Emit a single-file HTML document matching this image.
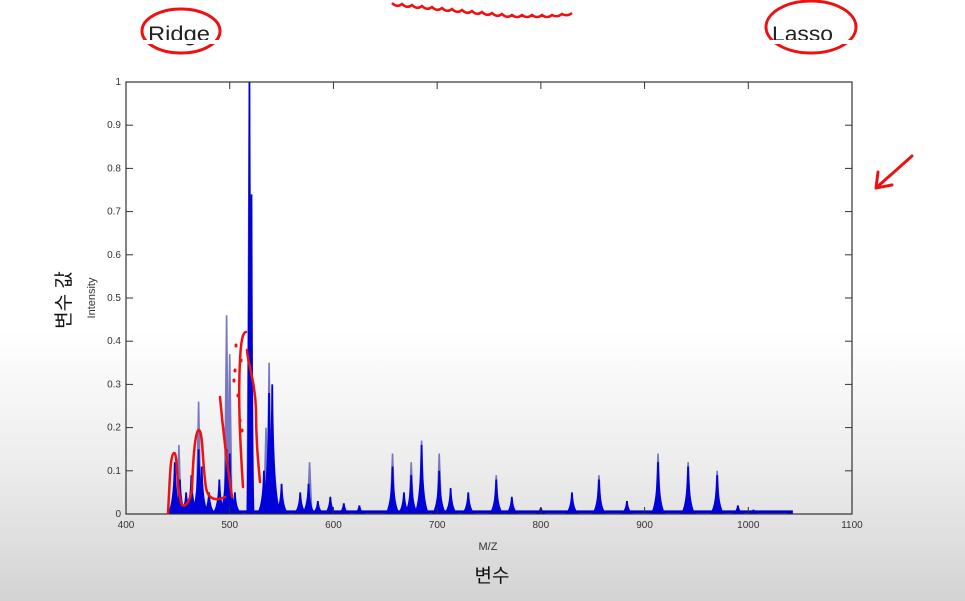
<!DOCTYPE html>
<html><head><meta charset="utf-8"><style>
html,body{margin:0;padding:0;}
body{width:965px;height:601px;overflow:hidden;background:linear-gradient(to bottom,#fff 0px,#fff 330px,#ececec 470px,#d3d3d3 601px);font-family:"Liberation Sans","Noto Sans CJK KR",sans-serif;}
svg{position:absolute;left:0;top:0;}
</style></head><body>
<svg id="chart" width="965" height="601" xmlns="http://www.w3.org/2000/svg">
<g>
<rect x="0" y="0" width="965" height="42" fill="#fff"/>
<text x="148" y="41" font-size="21" fill="#222" textLength="62" lengthAdjust="spacingAndGlyphs">Ridge</text>
<ellipse cx="181" cy="31" rx="39" ry="22" fill="none" stroke="#e11" stroke-width="3"/>
<text x="772" y="41" font-size="21" fill="#222" textLength="61" lengthAdjust="spacingAndGlyphs">Lasso</text>
<ellipse cx="811" cy="27" rx="45" ry="26" fill="none" stroke="#e11" stroke-width="3"/>
<path d="M392 3 q5 5 10 1 q5 5 10 1 q5 5 10 1 q5 5 10 1 q5 5 10 1 q5 5 10 1 q5 5 10 1 q5 5 10 1 q5 5 10 1 q5 5 10 1 q5 5 10 1 q5 5 10 1 q5 4 10 0 q5 4 10 0 q5 4 10 0 q5 4 10 0 q5 3 10 -1 q5 3 10 -1" fill="none" stroke="#e11" stroke-width="2.5"/>
<rect x="0" y="40" width="965" height="4" fill="#fff"/>
</g>
<path d="M912 156 L876 188 M876 188 L878 172 M876 188 L892 185" fill="none" stroke="#e11" stroke-width="3" stroke-linecap="round"/>
<g id="plot"></g>
<rect x="126" y="82" width="726" height="432" fill="none" stroke="#333" stroke-width="1.2"/>
<g id="ticks"></g>
<text x="488" y="550" font-size="11" fill="#333" text-anchor="middle">M/Z</text>
<text x="492" y="582" font-size="19" fill="#111" text-anchor="middle">변수</text>
<text transform="translate(95,298) rotate(-90)" font-size="11" fill="#333" text-anchor="middle">Intensity</text>
<text transform="translate(70,300) rotate(-90)" font-size="19" fill="#111" text-anchor="middle">변수 값</text>
<g fill="none" stroke="#e11" stroke-width="2.5" stroke-linecap="round">
<path d="M168 513 C170 480 170 455 174 453 C178 452 176 490 182 505 C185 507 189 504 192 490 C193 460 195 430 199 430 C203 432 202 460 206 488 C208 498 214 502 225 497"/>
<path d="M220 397 C223 430 228 470 232 497"/>
<path d="M243 487 C240 440 238 400 240 360 C241 340 243 332 246 332 M247 350 C248 365 255 380 256 410 C256 440 258 460 260 482"/>
<path d="M236 345 L236 346 M235 370 L235 371 M234 380 L234 381 M238 395 L238 396 M240 420 L240 421 M242 430 L242 431 M241 360 L241 361" stroke-width="3"/>
</g>
</svg>
<script>
const mzPeaks   = [447,452,458,463,470,473,480,490,497,500,505,519,521,533,538,541,550,568,576,585,597,610,625,657,668,675,685,702,713,730,757,772,800,830,856,883,913,942,970,990,1005,1040];
const darkHeights=[0.12,0.08,0.05,0.09,0.15,0.11,0.05,0.08,0.15,0.14,0.05,1.0,0.74,0.1,0.28,0.3,0.07,0.05,0.07,0.03,0.04,0.025,0.02,0.11,0.05,0.09,0.16,0.1,0.06,0.05,0.08,0.04,0.015,0.05,0.08,0.03,0.12,0.11,0.09,0.02,0.01,0.005];
const lightMz   = [451,470,497,500,519,535,538,577,657,675,685,702,757,856,913,942,970];
const lightHeights=[0.16,0.26,0.46,0.37,1.0,0.2,0.35,0.12,0.14,0.12,0.17,0.14,0.09,0.09,0.14,0.12,0.1];
const xTicks=[400,500,600,700,800,900,1000,1100];
const yTicks=[0,0.1,0.2,0.3,0.4,0.5,0.6,0.7,0.8,0.9,1];
const yTickLabels=["0","0.1","0.2","0.3","0.4","0.5","0.6","0.7","0.8","0.9","1"];
const X=v=>126+(v-400)*726/700, Y=v=>514-v*432;
const NS="http://www.w3.org/2000/svg";
const plot=document.getElementById('plot'), ticks=document.getElementById('ticks');
function mk(tag,attrs,parent){const e=document.createElementNS(NS,tag);for(const k in attrs)e.setAttribute(k,attrs[k]);parent.appendChild(e);return e;}
lightMz.forEach((m,i)=>{
 const el=mk('path',{d:`M${X(m)-3} ${Y(0)} L${X(m)-0.8} ${Y(lightHeights[i])} L${X(m)+0.8} ${Y(lightHeights[i])} L${X(m)+3} ${Y(0)} Z`,fill:'#7777c4'},plot);
 
 
});
const base=mk('path',{d:`M${X(443)} ${Y(0.005)} L${X(1043)} ${Y(0.005)}`,stroke:'#0000d0','stroke-width':3,fill:'none'},plot);


mzPeaks.forEach((m,i)=>{
 const h=darkHeights[i], w=h>0.5?3:(h>0.2?9:8);
 const el=mk('path',{d:`M${X(m)-w} ${Y(0)} Q${X(m)-1.5} ${Y(h*0.12)} ${X(m)-0.9} ${Y(h)} L${X(m)+0.9} ${Y(h)} Q${X(m)+1.5} ${Y(h*0.12)} ${X(m)+w} ${Y(0)} Z`,fill:'#0000d8'},plot);
 
 
});
xTicks.forEach(t=>{
 mk('line',{x1:X(t),x2:X(t),y1:514,y2:507,stroke:'#333'},ticks);
 mk('line',{x1:X(t),x2:X(t),y1:82,y2:89,stroke:'#333'},ticks);
 const tx=mk('text',{x:X(t),y:528,'font-size':10,fill:'#333','text-anchor':'middle'},ticks);
 tx.textContent=t;
 
 
});
yTicks.forEach((t,i)=>{
 mk('line',{x1:126,x2:133,y1:Y(t),y2:Y(t),stroke:'#333'},ticks);
 mk('line',{x1:852,x2:845,y1:Y(t),y2:Y(t),stroke:'#333'},ticks);
 const tx=mk('text',{x:121,y:Y(t)+3,'font-size':10,fill:'#333','text-anchor':'end'},ticks);
 tx.textContent=yTickLabels[i];
 
 
});
</script>
</body></html>
